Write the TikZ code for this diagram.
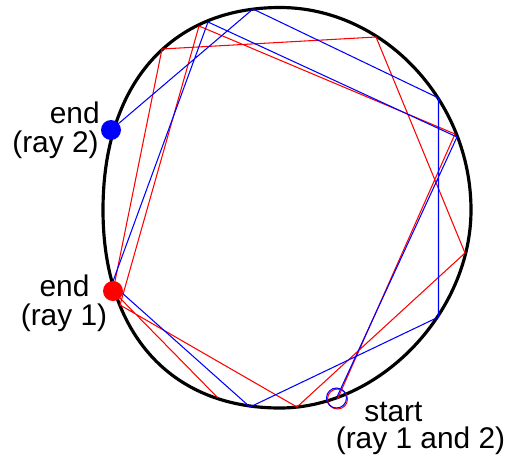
\documentclass[tikz,border=0pt]{standalone}
\usepackage{fontspec}
\setmainfont{Liberation Sans}
\begin{document}
\begin{tikzpicture}[x=0.02cm,y=-0.02cm,
  wall/.style={line width=1.8pt, black},
  rayone/.style={red, line width=0.6pt, line join=round},
  raytwo/.style={blue, line width=0.6pt, line join=round},
  lbl/.style={font=\fontsize{17}{20}\selectfont, inner sep=0pt}]
\useasboundingbox (0,0) rectangle (510,457);
% boundary
\coordinate (T) at (280,7.5);
\coordinate (R) at (471,210);
\coordinate (Bt) at (280,408);
\coordinate (L) at (103,210);
\draw[wall] (T) .. controls (383,7.5) and (471,100) .. (R)
  .. controls (471,313) and (379.3,408) .. (Bt)
  .. controls (170.3,408) and (103,332.8) .. (L)
  .. controls (103,84.5) and (170.3,7.5) .. cycle;
% ray 1 points
\coordinate (S1) at (337.5,399);
\coordinate (A1) at (455,134);
\coordinate (B1) at (199,26);
\coordinate (C1) at (120,305);
\coordinate (E1) at (297,407);
\coordinate (F1) at (465,253);
\coordinate (G1) at (376,37);
\coordinate (H1) at (162,49);
\coordinate (P1) at (113,291);
\coordinate (D1) at (218,398);
% ray 2 points
\coordinate (S2) at (336.5,398);
\coordinate (A2) at (457,137);
\coordinate (B2) at (208,22);
\coordinate (Q2) at (112,284);
\coordinate (E2) at (250,407);
\coordinate (F2) at (438.5,317);
\coordinate (G2) at (438.5,98);
\coordinate (K2) at (253,9);
\coordinate (Z2) at (111,130);
\draw[rayone] (S1) -- (A1) -- (B1) -- (C1) -- (E1) -- (F1) -- (G1) -- (H1) -- (P1) -- (D1);
\draw[raytwo] (S2) -- (A2) -- (B2) -- (Q2) -- (E2) -- (F2) -- (G2) -- (K2) -- (Z2);
% markers
\draw[red, line width=0.6pt] (S1) circle[radius=0.2cm];
\draw[blue, line width=0.6pt] (S2) circle[radius=0.2cm];
\fill[red] (P1) circle[radius=0.2cm];
\fill[blue] (Z2) circle[radius=0.2cm];
% labels
\node[lbl, anchor=base east] (e2a) at (100,123) {end};
\node[lbl, anchor=base east] (e2b) at (99,152.5) {(ray 2)};
\node[lbl, anchor=base] (e1a) at (64.5,296) {end};
\node[lbl, anchor=base] (e1b) at (64,325) {(ray 1)};
\node[lbl, anchor=base west] (s1) at (364,421) {start};
\node[lbl, anchor=base west] (s2) at (335.5,448) {(ray 1 and 2)};
\end{tikzpicture}
\end{document}
